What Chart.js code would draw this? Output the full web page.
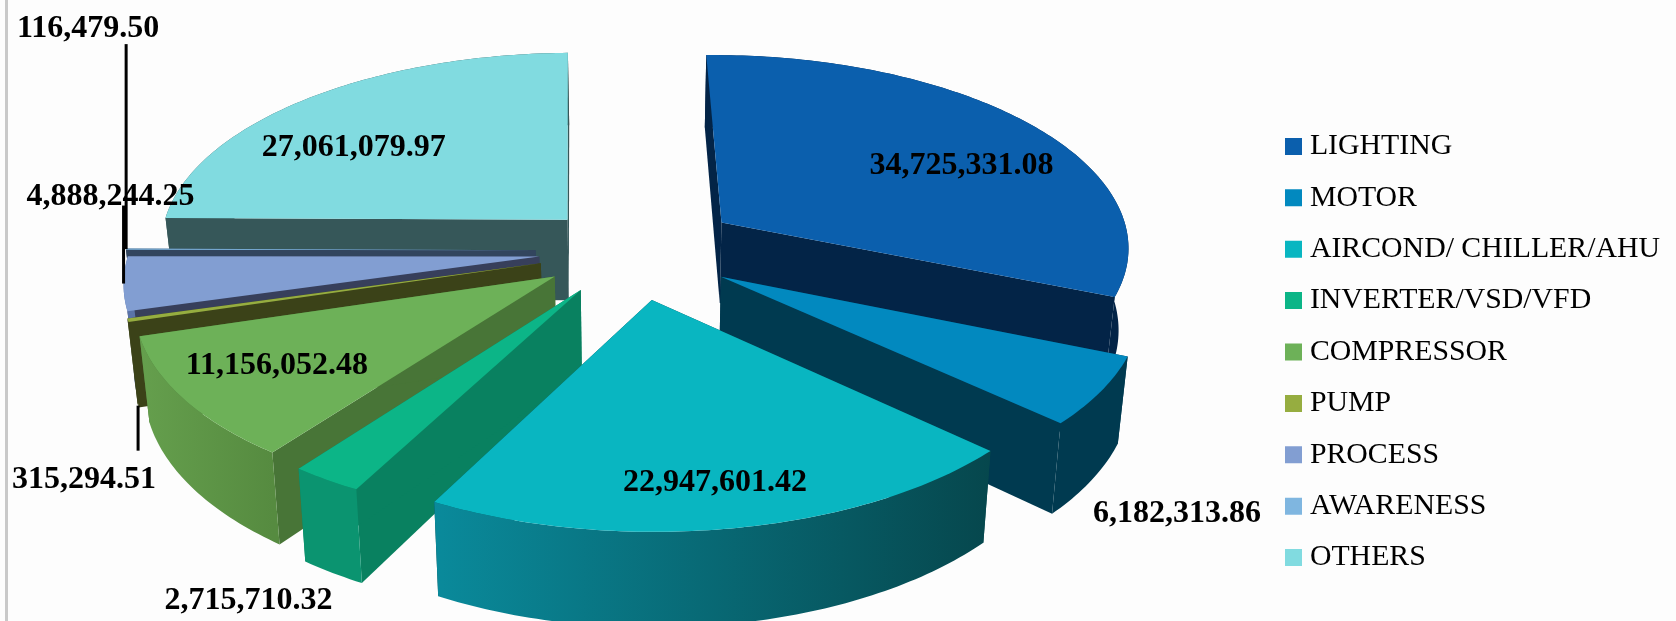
<!DOCTYPE html>
<html>
<head>
<meta charset="utf-8">
<title>Savings by category</title>
<script src="https://cdn.jsdelivr.net/npm/chart.js@4"></script>
<style>
    html, body { margin: 0; padding: 0; background: #fdfdfd; }
    #wrap { position: relative; width: 1676px; height: 621px; overflow: hidden; }
    #rule { position: absolute; left: 5px; top: 0; width: 3px; height: 621px; background: #c9c9c9; }
</style>
</head>
<body>
<div id="wrap">
    <div id="rule"></div>
    <canvas id="pieChart"></canvas>
</div>
<script>
const categories = ['LIGHTING', 'MOTOR', 'AIRCOND/ CHILLER/AHU', 'INVERTER/VSD/VFD', 'COMPRESSOR', 'PUMP', 'PROCESS', 'AWARENESS', 'OTHERS'];
const savings = [34725331.08, 6182313.86, 22947601.42, 2715710.32, 11156052.48, 315294.51, 4888244.25, 116479.50, 27061079.97];
const valueLabels = ['34,725,331.08', '6,182,313.86', '22,947,601.42', '2,715,710.32', '11,156,052.48', '315,294.51', '4,888,244.25', '116,479.50', '27,061,079.97'];

const topColors = ['#0b5fad', '#0289bf', '#09b6c1', '#0cb587', '#6db158', '#96ad40', '#829ed2', '#7fb6e0', '#81dbe0'];
const radialColors = ['#032447', '#003a50', '#06474d', '#098160', '#487537', '#3b4218', '#373f5b', '#32455e', '#365759'];
const arcColorsLeft = ['#032447', '#003a50', '#0a8a9b', '#0b9470', '#659f4d', '#3b4218', '#5a73a8', '#32455e', '#365759'];
const arcColorsRight = ['#032447', '#003a50', '#06474d', '#0b9470', '#568b40', '#3b4218', '#5a73a8', '#32455e', '#365759'];

// explosion of each slice, the library moves the arcs with it
const explode = [108, 102, 104, 97, 95, 96, 95, 98, 95];
// where the value label sits relative to the outer rim of its slice
const labelShift = [[-68, 42], [76, 123], [-20, -45], [-78, 121], [93, -33], [-44, 159], [-13, -87], [-38, -220], [46, 49]];
// leader line length from the rim, 0 = no line
const leaderLength = [0, 0, 0, 0, 0, 45, -78, -205, 0];

const TILT = 0.47;
const PERSPECTIVE = 0.115;
const DEPTH = 82;
const LIFT = -101.5;
const SHIFT_X = -1.5;

const projected3d = {
    id: 'projected3d',
    beforeDatasetDraw(chart) {
        const ctx = chart.ctx;
        const arcs = chart.getDatasetMeta(0).data;
        const order = arcs.map((arc, i) => i).sort((a, b) => midAngleY(arcs[a]) - midAngleY(arcs[b]));

        order.forEach(i => drawSlice(ctx, arcs[i], i));

        // labels go on top of every slice
        ctx.fillStyle = '#000';
        ctx.strokeStyle = '#000';
        ctx.lineWidth = 3;
        ctx.font = 'bold 32px "Liberation Serif"';
        ctx.textAlign = 'center';
        ctx.textBaseline = 'middle';
        arcs.forEach((arc, i) => {
            const mid = (arc.startAngle + arc.endAngle) / 2;
            const rim = project(arc, mid, arc.outerRadius, 0);
            if (leaderLength[i] !== 0) {
                const from = leaderLength[i] > 0 ? project(arc, mid, arc.outerRadius, 1) : rim;
                ctx.beginPath();
                ctx.moveTo(from.x, from.y);
                ctx.lineTo(from.x, from.y + leaderLength[i]);
                ctx.stroke();
            }
            ctx.fillText(valueLabels[i], rim.x + labelShift[i][0], rim.y + labelShift[i][1]);
        });
        return false;
    }
};

function midAngleY(arc) {
    return Math.sin((arc.startAngle + arc.endAngle) / 2);
}

// floor: 0 = top face, 1 = bottom of the extrusion
function project(arc, angle, radius, floor) {
    const mid = (arc.startAngle + arc.endAngle) / 2;
    const offset = arc.options.offset;
    const px = offset * Math.cos(mid) + radius * Math.cos(angle);
    const py = offset * Math.sin(mid) + radius * Math.sin(angle);
    const s = 1 / (1 - PERSPECTIVE * py / arc.outerRadius);
    const shrink = floor ? 0.98 : 1;
    return {
        x: arc.x + SHIFT_X + px * s * shrink,
        y: arc.y + LIFT + py * TILT * s + floor * DEPTH * s
    };
}

function rimPoints(arc, floor) {
    const pts = [];
    const steps = Math.max(2, Math.ceil((arc.endAngle - arc.startAngle) * 60));
    for (let k = 0; k <= steps; k++) {
        const a = arc.startAngle + (arc.endAngle - arc.startAngle) * k / steps;
        pts.push(project(arc, a, arc.outerRadius, floor));
    }
    return pts;
}

function fillPoly(ctx, pts, fill) {
    ctx.beginPath();
    pts.forEach((p, k) => k ? ctx.lineTo(p.x, p.y) : ctx.moveTo(p.x, p.y));
    ctx.closePath();
    ctx.fillStyle = fill;
    ctx.fill();
}

function drawSlice(ctx, arc, i) {
    const top = rimPoints(arc, 0);
    const bottom = rimPoints(arc, 1);
    const apexTop = project(arc, arc.startAngle, 0, 0);
    const apexBottom = project(arc, arc.startAngle, 0, 1);

    // the two straight walls
    fillPoly(ctx, [apexTop, top[0], bottom[0], apexBottom], radialColors[i]);
    fillPoly(ctx, [apexTop, top[top.length - 1], bottom[bottom.length - 1], apexBottom], radialColors[i]);

    // curved wall, shaded from left to right
    const xs = top.map(p => p.x);
    const grad = ctx.createLinearGradient(Math.min(...xs), 0, Math.max(...xs), 0);
    grad.addColorStop(0, arcColorsLeft[i]);
    grad.addColorStop(1, arcColorsRight[i]);
    fillPoly(ctx, top.concat(bottom.slice().reverse()), grad);

    fillPoly(ctx, [apexTop].concat(top), arc.options.backgroundColor);
}

new Chart(document.getElementById('pieChart'), {
    type: 'pie',
    data: {
        labels: categories,
        datasets: [{
            data: savings,
            backgroundColor: topColors,
            borderWidth: 0,
            offset: explode,
            radius: 410
        }]
    },
    options: {
        responsive: true,
        maintainAspectRatio: false,
        animation: false,
        rotation: -1,
        layout: { padding: { top: 83, right: 6 } },
        plugins: {
            tooltip: { enabled: false },
            legend: {
                position: 'right',
                labels: {
                    boxWidth: 3,
                    boxHeight: 3,
                    padding: 21.6,
                    color: '#111',
                    font: { family: '"Liberation Serif"', size: 29.8 },
                    // the stroke brings the box to its 17px size, the text stays close to it
                    generateLabels(chart) {
                        return categories.map((name, i) => ({
                            text: name,
                            fillStyle: topColors[i],
                            strokeStyle: topColors[i],
                            lineWidth: 14,
                            index: i
                        }));
                    }
                }
            }
        }
    },
    plugins: [projected3d]
});
</script>
</body>
</html>
